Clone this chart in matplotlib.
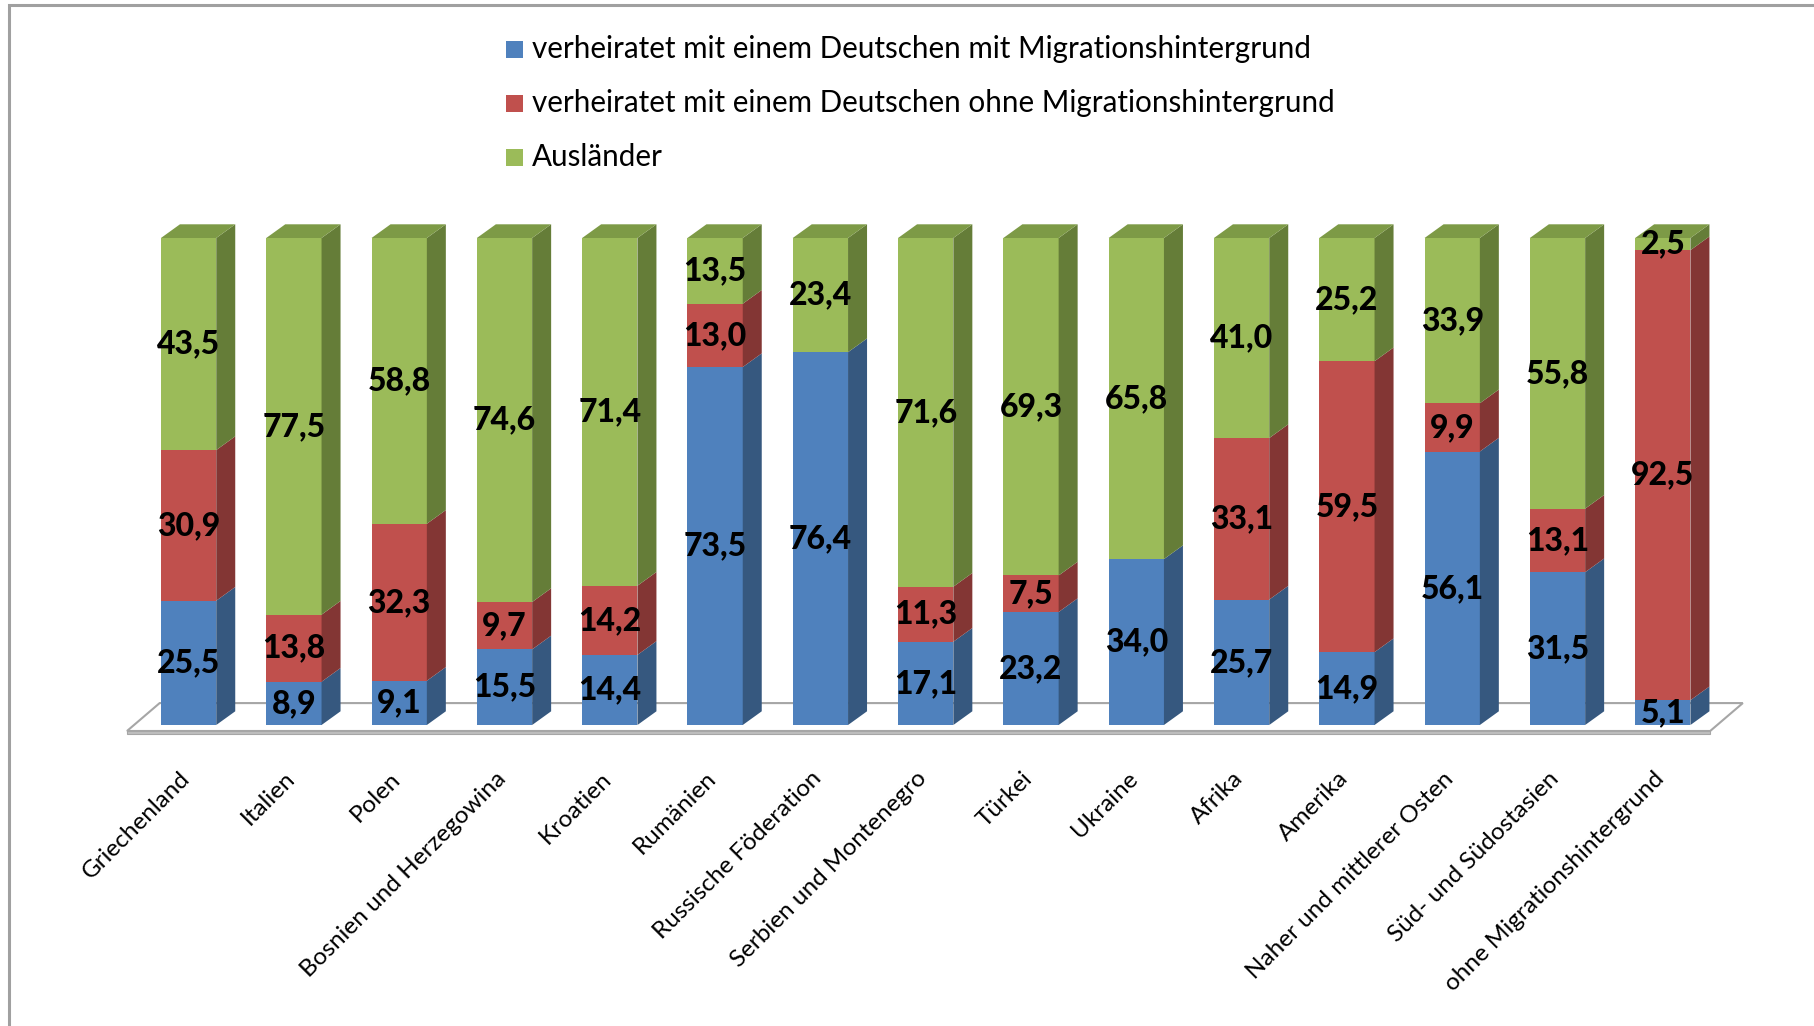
import matplotlib
matplotlib.use("Agg")
import matplotlib.pyplot as plt
from matplotlib.patches import Polygon, Rectangle
import numpy as np

# data (percent shares, 100% stacked)
categories = ["Griechenland", "Italien", "Polen", "Bosnien und Herzegowina", "Kroatien",
              "Rumänien", "Russische Föderation", "Serbien und Montenegro", "Türkei",
              "Ukraine", "Afrika", "Amerika", "Naher und mittlerer Osten",
              "Süd- und Südostasien", "ohne Migrationshintergrund"]
mit_migration = [25.5, 8.9, 9.1, 15.5, 14.4, 73.5, 76.4, 17.1, 23.2, 34.0, 25.7, 14.9, 56.1, 31.5, 5.1]
ohne_migration = [30.9, 13.8, 32.3, 9.7, 14.2, 13.0, 0.0, 11.3, 7.5, 0.0, 33.1, 59.5, 9.9, 13.1, 92.5]
auslaender = [43.5, 77.5, 58.8, 74.6, 71.4, 13.5, 23.4, 71.6, 69.3, 65.8, 41.0, 25.2, 33.9, 55.8, 2.5]
series_names = ["verheiratet mit einem Deutschen mit Migrationshintergrund",
                "verheiratet mit einem Deutschen ohne Migrationshintergrund",
                "Ausländer"]

# front / side / top colours
colors = [("#4F81BD", "#36587F", "#4470A6"),
          ("#C0504D", "#833634", "#A54543"),
          ("#9BBB59", "#657D38", "#7D9A46")]

FW, FH = 1814, 1026
fig = plt.figure(figsize=(FW / 100, FH / 100), dpi=100)

# main axes: index units on x, percent on y
px0, px1, py0, py1 = 100, 1780, 200, 760
x_at = lambda px: (px - 188.6) / 105.3
y_at = lambda py: (725 - py) / 4.87
ax = fig.add_axes([px0 / FW, 1 - py1 / FH, (px1 - px0) / FW, (py1 - py0) / FH])
ax.set_xlim(x_at(px0), x_at(px1))
ax.set_ylim(y_at(py1), y_at(py0))
ax.axis("off")

W = 0.525
DX = 19 / 105.3
DY = 13.7 / 4.87

# floor
fl, fr, fb, fbk, fdx = -0.585, 14.45, -1.23, 4.5, 0.31
ax.add_patch(Polygon([(fl, fb), (fr, fb), (fr + fdx, fbk), (fl + fdx, fbk)],
                     closed=True, facecolor="white", edgecolor="#A6A6A6", lw=1.5, zorder=1))
ax.add_patch(Polygon([(fl, fb), (fr, fb), (fr, fb - 0.7), (fl, fb - 0.7)],
                     closed=True, facecolor="#BFBFBF", edgecolor="#A6A6A6", lw=0.8, zorder=1))

data = np.array([mit_migration, ohne_migration, auslaender])
shares = data / data.sum(axis=0) * 100

for i in range(len(categories)):
    x = i - W / 2
    bottom = 0.0
    for s in range(3):
        h = shares[s, i]
        if h <= 0:
            continue
        front, side, top = colors[s]
        ax.add_patch(Rectangle((x, bottom), W, h, facecolor=front, edgecolor="none", zorder=2))
        ax.add_patch(Polygon([(x + W, bottom), (x + W + DX, bottom + DY),
                              (x + W + DX, bottom + h + DY), (x + W, bottom + h)],
                             closed=True, facecolor=side, edgecolor="none", zorder=2))
        bottom += h
    top_col = colors[2][2] if shares[2, i] > 0 else colors[1][2]
    ax.add_patch(Polygon([(x, bottom), (x + DX, bottom + DY), (x + W + DX, bottom + DY),
                          (x + W, bottom)], closed=True, facecolor=top_col,
                         edgecolor="none", zorder=2))

    # value labels
    bottom = 0.0
    for s in range(3):
        h = shares[s, i]
        if data[s, i] > 0:
            ax.text(i, bottom + h / 2, f"{data[s, i]:.1f}".replace(".", ","),
                    ha="center", va="center", fontsize=23, fontweight="black",
                    family=["Lato", "DejaVu Sans"], color="black", zorder=5)
        bottom += h

    ax.text(i - 0.09, -8.8, categories[i], rotation=45, rotation_mode="anchor",
            ha="right", va="top", fontsize=17.5, family=["Lato", "DejaVu Sans"])

# overlay for frame and legend, in pixel units
ov = fig.add_axes([0, 0, 1, 1], zorder=-1)
ov.set_xlim(0, FW)
ov.set_ylim(FH, 0)
ov.axis("off")
ov.plot([9, 9, FW], [FH, 5, 5], color="#A0A0A0", lw=2.2, solid_joinstyle="miter")

ax_leg = fig.add_axes([0, 0, 1, 1], zorder=3)
ax_leg.set_xlim(0, FW)
ax_leg.set_ylim(FH, 0)
ax_leg.axis("off")
for k, name in enumerate(series_names):
    yc = 49 + k * 54
    ax_leg.add_patch(Rectangle((506, yc - 8.5), 17, 17, facecolor=colors[k][0], edgecolor="none"))
    ax_leg.text(532, yc, name, ha="left", va="center", fontsize=21.3,
                family=["Lato", "DejaVu Sans"])

fig.savefig("out.png", dpi=100, facecolor="white")
